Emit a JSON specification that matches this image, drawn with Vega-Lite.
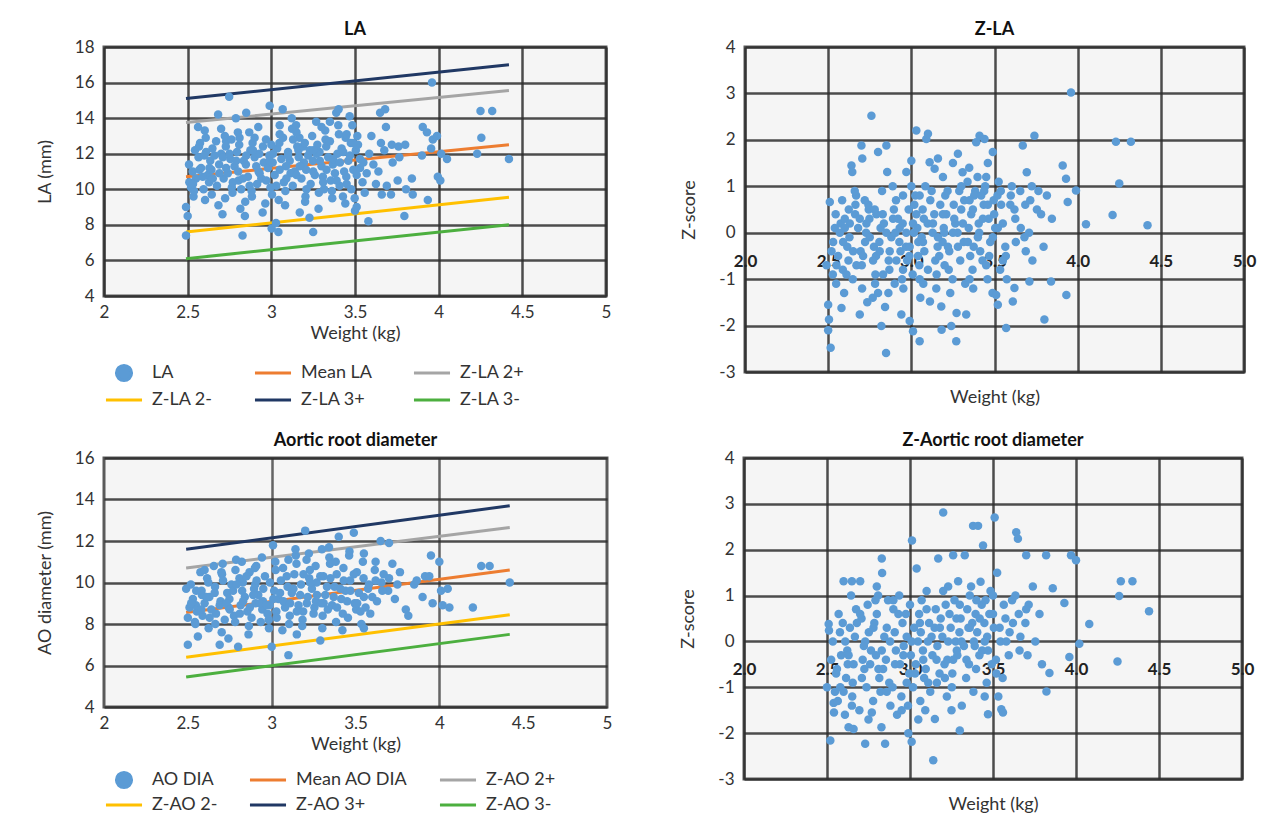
{
"$schema": "https://vega.github.io/schema/vega-lite/v6.json",
"background": "white",
"padding": {"left": 34, "top": 19, "right": 5, "bottom": 1},
"config": {
  "font": "Lato",
  "view": {"stroke": "#5a5a5a", "strokeWidth": 3, "fill": "#f5f5f5"},
  "axis": {"labelFont": "Lato", "labelFontSize": 17, "labelColor": "#333", "titleFont": "Lato", "titleFontSize": 18, "titleFontWeight": "normal", "titleColor": "#333", "ticks": false, "domain": false, "grid": true, "gridColor": "#2e2e2e", "gridWidth": 2.5, "gridOpacity": 0.85, "labelOverlap": false},
  "title": {"font": "Lato", "fontSize": 18, "fontWeight": "bold", "color": "#111", "offset": -1},
  "legend": {"labelFont": "Lato", "labelFontSize": 18, "labelColor": "#333"}
},
"datasets": {
  "laLines": [
    {"s": "Z-LA 3+", "w": 2.49, "v": 15.1}, {"s": "Z-LA 3+", "w": 4.42, "v": 17.0},
    {"s": "Z-LA 2+", "w": 2.49, "v": 13.75}, {"s": "Z-LA 2+", "w": 4.42, "v": 15.55},
    {"s": "Mean LA", "w": 2.49, "v": 10.7}, {"s": "Mean LA", "w": 4.42, "v": 12.5},
    {"s": "Z-LA 2-", "w": 2.49, "v": 7.6}, {"s": "Z-LA 2-", "w": 4.42, "v": 9.55},
    {"s": "Z-LA 3-", "w": 2.49, "v": 6.1}, {"s": "Z-LA 3-", "w": 4.42, "v": 8.0}
  ],
  "aoLines": [
    {"s": "Z-AO 3+", "w": 2.49, "v": 11.6}, {"s": "Z-AO 3+", "w": 4.42, "v": 13.7},
    {"s": "Z-AO 2+", "w": 2.49, "v": 10.7}, {"s": "Z-AO 2+", "w": 4.42, "v": 12.65},
    {"s": "Mean AO DIA", "w": 2.49, "v": 8.55}, {"s": "Mean AO DIA", "w": 4.42, "v": 10.6},
    {"s": "Z-AO 2-", "w": 2.49, "v": 6.4}, {"s": "Z-AO 2-", "w": 4.42, "v": 8.45},
    {"s": "Z-AO 3-", "w": 2.49, "v": 5.45}, {"s": "Z-AO 3-", "w": 4.42, "v": 7.5}
  ],
  "la": [
    {"w":2.49,"v":9.0},{"w":2.5,"v":8.5},{"w":2.49,"v":7.4},{"w":2.51,"v":10.4},
    {"w":2.52,"v":10.1},{"w":2.535,"v":9.6},{"w":2.508,"v":11.4},{"w":2.544,"v":12.2},
    {"w":2.55,"v":10.6},{"w":2.565,"v":11.8},{"w":2.538,"v":9.9},{"w":2.574,"v":12.6},{"w":2.532,"v":10.3},
    {"w":2.58,"v":11.2},{"w":2.595,"v":10.0},{"w":2.568,"v":12.4},{"w":2.604,"v":9.4},{"w":2.562,"v":13.5},
    {"w":2.62,"v":10.8},{"w":2.635,"v":11.6},{"w":2.608,"v":12.9},{"w":2.644,"v":9.7},{"w":2.602,"v":13.3},{"w":2.628,"v":10.4},
    {"w":2.66,"v":11.9},{"w":2.675,"v":10.2},{"w":2.648,"v":12.3},{"w":2.684,"v":9.1},{"w":2.642,"v":11.1},
    {"w":2.70,"v":12.0},{"w":2.715,"v":10.6},{"w":2.688,"v":11.4},{"w":2.724,"v":9.5},{"w":2.682,"v":14.2},{"w":2.708,"v":8.6},{"w":2.73,"v":12.7},
    {"w":2.74,"v":10.9},{"w":2.755,"v":11.7},{"w":2.728,"v":12.4},{"w":2.764,"v":10.1},{"w":2.722,"v":13.0},{"w":2.748,"v":15.2},
    {"w":2.78,"v":11.3},{"w":2.795,"v":12.1},{"w":2.768,"v":9.8},{"w":2.804,"v":10.5},{"w":2.762,"v":12.8},{"w":2.788,"v":14.0},
    {"w":2.82,"v":10.0},{"w":2.835,"v":11.6},{"w":2.808,"v":12.5},{"w":2.844,"v":9.3},{"w":2.802,"v":11.0},{"w":2.828,"v":7.4},{"w":2.85,"v":14.3},{"w":2.815,"v":8.9},
    {"w":2.86,"v":10.7},{"w":2.875,"v":12.2},{"w":2.848,"v":11.4},{"w":2.884,"v":9.6},{"w":2.842,"v":8.5},{"w":2.868,"v":13.2},
    {"w":2.90,"v":11.8},{"w":2.915,"v":10.3},{"w":2.888,"v":12.6},{"w":2.924,"v":11.0},{"w":2.882,"v":9.9},
    {"w":2.94,"v":10.6},{"w":2.955,"v":11.5},{"w":2.928,"v":12.0},{"w":2.964,"v":9.2},{"w":2.922,"v":13.5},{"w":2.948,"v":8.7},
    {"w":2.98,"v":11.2},{"w":2.995,"v":10.1},{"w":2.968,"v":12.8},{"w":3.004,"v":9.7},{"w":2.99,"v":14.7},{"w":2.988,"v":11.9},
    {"w":3.02,"v":10.8},{"w":3.035,"v":12.3},{"w":3.008,"v":11.5},{"w":3.044,"v":9.4},{"w":3.002,"v":7.8},{"w":3.028,"v":8.1},{"w":3.05,"v":13.1},
    {"w":3.06,"v":11.7},{"w":3.075,"v":10.4},{"w":3.048,"v":12.6},{"w":3.084,"v":9.9},{"w":3.042,"v":7.6},{"w":3.068,"v":14.5},
    {"w":3.10,"v":12.1},{"w":3.115,"v":10.9},{"w":3.088,"v":11.3},{"w":3.124,"v":13.4},{"w":3.082,"v":9.1},
    {"w":3.14,"v":11.0},{"w":3.155,"v":12.4},{"w":3.128,"v":10.2},{"w":3.164,"v":11.8},{"w":3.122,"v":14.0},{"w":3.148,"v":13.6},{"w":3.17,"v":8.7},
    {"w":3.18,"v":10.6},{"w":3.195,"v":11.5},{"w":3.168,"v":12.9},{"w":3.204,"v":9.6},{"w":3.162,"v":12.2},
    {"w":3.22,"v":11.9},{"w":3.235,"v":10.3},{"w":3.208,"v":11.1},{"w":3.244,"v":13.0},{"w":3.202,"v":9.3},{"w":3.228,"v":8.4},
    {"w":3.26,"v":10.8},{"w":3.275,"v":12.5},{"w":3.248,"v":11.6},{"w":3.284,"v":9.8},{"w":3.25,"v":7.6},{"w":3.268,"v":13.8},
    {"w":3.30,"v":11.3},{"w":3.315,"v":10.0},{"w":3.288,"v":12.1},{"w":3.324,"v":12.8},{"w":3.282,"v":8.9},{"w":3.308,"v":10.7},
    {"w":3.34,"v":11.8},{"w":3.355,"v":10.5},{"w":3.328,"v":12.4},{"w":3.364,"v":9.5},{"w":3.322,"v":13.3},
    {"w":3.38,"v":10.9},{"w":3.395,"v":12.0},{"w":3.368,"v":11.4},{"w":3.404,"v":13.1},{"w":3.362,"v":9.9},{"w":3.388,"v":14.3},
    {"w":3.42,"v":12.3},{"w":3.435,"v":11.0},{"w":3.408,"v":10.2},{"w":3.444,"v":12.9},{"w":3.402,"v":14.5},{"w":3.428,"v":9.6},
    {"w":3.46,"v":11.6},{"w":3.475,"v":12.6},{"w":3.448,"v":10.7},{"w":3.484,"v":13.6},{"w":3.442,"v":9.2},{"w":3.468,"v":14.1},
    {"w":3.49,"v":11.1},{"w":3.505,"v":12.2},{"w":3.478,"v":10.0},{"w":3.514,"v":13.0},{"w":3.5,"v":8.8},{"w":3.498,"v":9.5},
    {"w":3.53,"v":11.7},{"w":3.545,"v":10.4},{"w":3.518,"v":12.5},{"w":3.51,"v":9.0},
    {"w":3.57,"v":10.9},{"w":3.585,"v":12.0},{"w":3.558,"v":9.8},{"w":3.58,"v":8.2},
    {"w":3.61,"v":11.4},{"w":3.625,"v":10.3},{"w":3.598,"v":13.0},
    {"w":3.65,"v":14.3},{"w":3.655,"v":12.6},{"w":3.64,"v":11.0},{"w":3.66,"v":9.7},
    {"w":3.68,"v":14.5},{"w":3.685,"v":13.5},{"w":3.675,"v":12.2},{"w":3.69,"v":10.2},
    {"w":3.72,"v":12.5},{"w":3.725,"v":11.5},{"w":3.715,"v":9.7},
    {"w":3.76,"v":12.4},{"w":3.755,"v":10.5},{"w":3.765,"v":11.8},
    {"w":3.80,"v":12.5},{"w":3.805,"v":10.0},{"w":3.795,"v":8.5},
    {"w":3.84,"v":10.6},{"w":3.845,"v":9.7},
    {"w":3.90,"v":11.9},{"w":3.905,"v":13.5},
    {"w":3.93,"v":13.2},{"w":3.935,"v":9.4},
    {"w":3.96,"v":16.0},{"w":3.965,"v":12.8},{"w":3.955,"v":12.3},
    {"w":3.99,"v":13.0},{"w":3.995,"v":10.7},
    {"w":4.01,"v":10.5},{"w":4.015,"v":12.0},
    {"w":4.05,"v":11.7},{"w":4.23,"v":12.0},{"w":4.25,"v":14.4},{"w":4.255,"v":12.9},{"w":4.32,"v":14.4},{"w":4.42,"v":11.7},
    {"w":2.53,"v":11.0},{"w":2.57,"v":11.1},{"w":2.59,"v":10.7},{"w":2.61,"v":12.1},{"w":2.63,"v":11.2},{"w":2.65,"v":10.6},{"w":2.67,"v":12.7},{"w":2.69,"v":10.9},
    {"w":2.71,"v":11.8},{"w":2.73,"v":11.2},{"w":2.75,"v":12.0},{"w":2.77,"v":10.4},{"w":2.79,"v":11.6},{"w":2.81,"v":12.9},{"w":2.83,"v":10.6},{"w":2.85,"v":11.9},
    {"w":2.87,"v":10.2},{"w":2.89,"v":12.2},{"w":2.91,"v":11.3},{"w":2.93,"v":10.9},{"w":2.95,"v":12.4},{"w":2.97,"v":10.5},{"w":2.99,"v":11.6},{"w":3.01,"v":12.0},
    {"w":3.03,"v":10.2},{"w":3.05,"v":11.1},{"w":3.07,"v":12.9},{"w":3.09,"v":10.6},{"w":3.11,"v":11.6},{"w":3.13,"v":12.8},{"w":3.15,"v":10.8},{"w":3.17,"v":11.3},
    {"w":3.19,"v":12.4},{"w":3.21,"v":10.0},{"w":3.23,"v":12.2},{"w":3.25,"v":11.0},{"w":3.27,"v":12.0},{"w":3.29,"v":11.6},{"w":3.31,"v":10.4},{"w":3.33,"v":11.1},
    {"w":3.35,"v":12.7},{"w":3.37,"v":11.7},{"w":3.39,"v":10.5},{"w":3.41,"v":11.5},{"w":3.43,"v":12.1},{"w":3.45,"v":10.3},{"w":3.47,"v":11.9},{"w":3.49,"v":12.6},
    {"w":3.51,"v":10.8},{"w":3.53,"v":11.2},{"w":3.55,"v":11.5},{"w":3.45,"v":13.1},{"w":3.40,"v":13.6},{"w":3.35,"v":13.8},{"w":3.3,"v":13.5},{"w":3.20,"v":12.6},
    {"w":3.10,"v":11.9},{"w":2.90,"v":12.9},{"w":2.80,"v":13.2},{"w":2.70,"v":13.4},{"w":2.60,"v":11.9},{"w":3.00,"v":12.5},{"w":3.05,"v":13.6},{"w":3.15,"v":13.2},{"w":3.25,"v":12.2}
  ],
  "zla": [
    {"w":2.50,"v":-1.55},{"w":2.505,"v":-1.87},{"w":2.515,"v":-2.48},{"w":2.49,"v":-0.7},{"w":2.51,"v":0.66},{"w":2.52,"v":-0.4},{"w":2.50,"v":-2.1},
    {"w":2.53,"v":-0.2},{"w":2.545,"v":0.4},{"w":2.528,"v":-0.9},{"w":2.54,"v":0.1},
    {"w":2.56,"v":-0.5},{"w":2.575,"v":0.2},{"w":2.548,"v":-1.1},{"w":2.584,"v":0.7},{"w":2.58,"v":-1.62},
    {"w":2.60,"v":0.3},{"w":2.615,"v":-0.3},{"w":2.588,"v":-0.8},{"w":2.624,"v":0.5},{"w":2.596,"v":-1.3},
    {"w":2.64,"v":1.45},{"w":2.645,"v":1.31},{"w":2.628,"v":-0.1},{"w":2.664,"v":0.6},{"w":2.622,"v":-0.6},{"w":2.648,"v":-1.0},
    {"w":2.68,"v":0.1},{"w":2.695,"v":-0.4},{"w":2.668,"v":0.8},{"w":2.704,"v":-1.2},{"w":2.662,"v":0.4},{"w":2.69,"v":-1.76},
    {"w":2.70,"v":1.88},{"w":2.705,"v":1.6},{"w":2.722,"v":-0.2},{"w":2.744,"v":0.5},{"w":2.702,"v":-0.7},{"w":2.728,"v":0.0},{"w":2.735,"v":-1.5},
    {"w":2.76,"v":2.52},{"w":2.775,"v":-0.3},{"w":2.748,"v":0.3},{"w":2.784,"v":-0.9},{"w":2.742,"v":0.6},{"w":2.768,"v":-1.4},
    {"w":2.80,"v":1.74},{"w":2.815,"v":0.1},{"w":2.788,"v":-0.5},{"w":2.824,"v":0.9},{"w":2.782,"v":-1.1},{"w":2.82,"v":-2.01},{"w":2.808,"v":-0.2},
    {"w":2.85,"v":1.88},{"w":2.848,"v":-2.59},{"w":2.828,"v":0.4},{"w":2.864,"v":-0.6},{"w":2.835,"v":0.2},{"w":2.842,"v":-1.6},{"w":2.855,"v":1.31},
    {"w":2.88,"v":-0.1},{"w":2.895,"v":0.5},{"w":2.868,"v":-0.8},{"w":2.904,"v":0.0},{"w":2.862,"v":-1.3},{"w":2.888,"v":1.0},
    {"w":2.92,"v":0.3},{"w":2.935,"v":-0.4},{"w":2.908,"v":0.7},{"w":2.944,"v":-1.0},{"w":2.94,"v":-1.76},{"w":2.928,"v":-0.2},
    {"w":2.97,"v":1.31},{"w":2.975,"v":-0.6},{"w":2.948,"v":0.2},{"w":2.984,"v":0.5},{"w":2.952,"v":-1.2},{"w":2.968,"v":-0.3},
    {"w":3.00,"v":1.55},{"w":3.015,"v":0.0},{"w":2.988,"v":-0.5},{"w":3.024,"v":0.8},{"w":2.99,"v":-1.9},{"w":3.008,"v":-0.9},{"w":3.03,"v":0.4},
    {"w":3.03,"v":2.2},{"w":3.01,"v":-2.12},{"w":3.042,"v":-0.2},{"w":3.018,"v":0.6},{"w":3.054,"v":-1.4},{"w":3.036,"v":0.1},
    {"w":3.05,"v":-2.34},{"w":3.075,"v":0.3},{"w":3.048,"v":-0.7},{"w":3.084,"v":1.0},{"w":3.062,"v":-0.1},{"w":3.068,"v":0.5},
    {"w":3.09,"v":2.02},{"w":3.10,"v":2.13},{"w":3.078,"v":-0.4},{"w":3.114,"v":0.7},{"w":3.072,"v":-1.1},{"w":3.098,"v":0.2},
    {"w":3.11,"v":1.52},{"w":3.112,"v":-1.48},{"w":3.128,"v":0.0},{"w":3.144,"v":-0.6},{"w":3.122,"v":0.9},{"w":3.138,"v":0.4},
    {"w":3.14,"v":1.38},{"w":3.16,"v":1.6},{"w":3.158,"v":-0.3},{"w":3.174,"v":0.6},{"w":3.152,"v":-0.9},{"w":3.18,"v":-1.59},
    {"w":3.182,"v":-2.09},{"w":3.195,"v":0.1},{"w":3.168,"v":-0.5},{"w":3.204,"v":0.8},{"w":3.19,"v":1.2},{"w":3.188,"v":-0.2},
    {"w":3.21,"v":0.4},{"w":3.225,"v":-0.8},{"w":3.198,"v":0.0},{"w":3.234,"v":-1.3},{"w":3.218,"v":0.9},
    {"w":3.24,"v":-2.01},{"w":3.255,"v":0.6},{"w":3.228,"v":-0.4},{"w":3.264,"v":0.2},{"w":3.25,"v":1.5},{"w":3.248,"v":-1.0},
    {"w":3.27,"v":-2.34},{"w":3.272,"v":-1.73},{"w":3.258,"v":0.3},{"w":3.294,"v":-0.6},{"w":3.28,"v":1.7},{"w":3.278,"v":0.0},
    {"w":3.30,"v":0.5},{"w":3.315,"v":-0.2},{"w":3.288,"v":0.9},{"w":3.324,"v":-1.1},{"w":3.308,"v":1.3},
    {"w":3.33,"v":-1.76},{"w":3.345,"v":0.1},{"w":3.318,"v":0.7},{"w":3.354,"v":-0.5},{"w":3.338,"v":1.1},
    {"w":3.36,"v":0.4},{"w":3.375,"v":-0.3},{"w":3.348,"v":1.4},{"w":3.384,"v":0.9},{"w":3.368,"v":-0.8},
    {"w":3.39,"v":1.95},{"w":3.405,"v":0.2},{"w":3.378,"v":0.8},{"w":3.414,"v":-0.4},{"w":3.398,"v":1.2},{"w":3.372,"v":-1.2},
    {"w":3.41,"v":2.09},{"w":3.435,"v":0.6},{"w":3.408,"v":0.0},{"w":3.444,"v":1.0},{"w":3.428,"v":-0.6},
    {"w":3.44,"v":2.02},{"w":3.465,"v":0.3},{"w":3.438,"v":0.9},{"w":3.474,"v":-0.2},{"w":3.458,"v":-1.0},{"w":3.46,"v":1.5},
    {"w":3.49,"v":1.74},{"w":3.495,"v":0.7},{"w":3.468,"v":-0.5},{"w":3.504,"v":0.1},{"w":3.488,"v":-1.3},
    {"w":3.51,"v":-1.34},{"w":3.525,"v":1.1},{"w":3.498,"v":0.4},{"w":3.534,"v":-0.8},{"w":3.52,"v":-1.55},{"w":3.518,"v":0.8},
    {"w":3.55,"v":0.2},{"w":3.565,"v":-0.3},{"w":3.538,"v":0.9},{"w":3.574,"v":-1.0},
    {"w":3.57,"v":-2.05},{"w":3.595,"v":0.6},{"w":3.568,"v":-0.5},{"w":3.604,"v":1.0},
    {"w":3.61,"v":-1.48},{"w":3.625,"v":0.3},{"w":3.598,"v":0.8},
    {"w":3.62,"v":-1.19},{"w":3.655,"v":0.9},{"w":3.628,"v":-0.2},
    {"w":3.67,"v":1.88},{"w":3.685,"v":0.6},{"w":3.658,"v":0.1},{"w":3.694,"v":1.3},
    {"w":3.71,"v":-1.05},{"w":3.715,"v":0.7},{"w":3.688,"v":-0.4},{"w":3.724,"v":1.0},{"w":3.708,"v":0.0},
    {"w":3.74,"v":2.09},{"w":3.755,"v":0.5},{"w":3.728,"v":-0.6},{"w":3.764,"v":0.9},
    {"w":3.78,"v":0.4},{"w":3.795,"v":-0.3},{"w":3.80,"v":-1.87},{"w":3.815,"v":0.8},{"w":3.84,"v":-1.05},{"w":3.845,"v":0.3},
    {"w":3.91,"v":1.45},{"w":3.93,"v":1.16},{"w":3.932,"v":-1.34},{"w":3.94,"v":0.66},{"w":3.96,"v":3.02},{"w":3.99,"v":0.91},
    {"w":4.05,"v":0.18},{"w":4.21,"v":0.38},{"w":4.23,"v":1.96},{"w":4.25,"v":1.06},{"w":4.32,"v":1.96},{"w":4.42,"v":0.16},
    {"w":2.55,"v":-0.7},{"w":2.57,"v":0.0},{"w":2.59,"v":-0.2},{"w":2.61,"v":-0.9},{"w":2.63,"v":0.2},{"w":2.65,"v":-0.4},{"w":2.67,"v":-0.7},{"w":2.69,"v":0.3},
    {"w":2.71,"v":-0.5},{"w":2.73,"v":0.2},{"w":2.75,"v":-0.1},{"w":2.77,"v":-0.6},{"w":2.79,"v":0.4},{"w":2.81,"v":-0.4},{"w":2.83,"v":-0.9},{"w":2.85,"v":0.0},
    {"w":2.87,"v":-0.4},{"w":2.89,"v":0.3},{"w":2.91,"v":-0.6},{"w":2.93,"v":0.1},{"w":2.95,"v":-0.8},{"w":2.97,"v":0.0},{"w":2.99,"v":-0.3},{"w":3.01,"v":0.2},
    {"w":3.04,"v":-0.5},{"w":3.07,"v":-0.2},{"w":3.10,"v":-0.8},{"w":3.13,"v":0.2},{"w":3.16,"v":-0.1},{"w":3.19,"v":0.4},{"w":3.22,"v":-0.3},{"w":3.25,"v":0.0},
    {"w":3.28,"v":-0.3},{"w":3.31,"v":0.2},{"w":3.34,"v":-0.2},{"w":3.37,"v":0.5},{"w":3.40,"v":-0.1},{"w":3.43,"v":0.3},{"w":3.46,"v":0.6},{"w":3.49,"v":-0.1},
    {"w":3.52,"v":0.1},{"w":3.54,"v":0.6},{"w":3.45,"v":1.2},{"w":3.42,"v":0.8},{"w":3.35,"v":0.7},{"w":3.30,"v":1.0},{"w":3.05,"v":0.8},{"w":3.00,"v":1.0},
    {"w":2.95,"v":0.8},{"w":2.78,"v":0.5},{"w":2.72,"v":0.7},{"w":2.66,"v":0.9},{"w":2.60,"v":0.1},{"w":3.20,"v":-0.7},{"w":3.15,"v":-1.2},{"w":3.05,"v":-1.0},
    {"w":2.90,"v":-1.1},{"w":2.80,"v":-1.3},{"w":3.35,"v":-1.0},{"w":3.45,"v":-0.7},{"w":3.55,"v":-0.6},{"w":3.62,"v":0.5},{"w":3.68,"v":-0.1}
  ],
  "ao": [
    {"w":2.50,"v":7.0},{"w":2.49,"v":9.7},{"w":2.51,"v":8.8},{"w":2.5,"v":8.3},
    {"w":2.53,"v":9.2},{"w":2.545,"v":8.0},{"w":2.518,"v":9.9},{"w":2.554,"v":8.6},
    {"w":2.56,"v":7.4},{"w":2.575,"v":10.5},{"w":2.548,"v":8.9},{"w":2.584,"v":9.4},{"w":2.542,"v":8.1},
    {"w":2.60,"v":9.0},{"w":2.615,"v":10.2},{"w":2.588,"v":8.4},{"w":2.624,"v":7.8},{"w":2.582,"v":9.6},
    {"w":2.64,"v":8.7},{"w":2.655,"v":10.8},{"w":2.628,"v":9.3},{"w":2.664,"v":8.0},{"w":2.622,"v":10.0},
    {"w":2.69,"v":7.0},{"w":2.695,"v":9.1},{"w":2.668,"v":8.5},{"w":2.704,"v":10.4},{"w":2.662,"v":9.8},
    {"w":2.72,"v":8.2},{"w":2.735,"v":9.5},{"w":2.708,"v":10.9},{"w":2.744,"v":8.8},{"w":2.702,"v":7.6},
    {"w":2.76,"v":9.9},{"w":2.775,"v":8.4},{"w":2.748,"v":9.2},{"w":2.784,"v":10.6},{"w":2.742,"v":7.3},
    {"w":2.80,"v":6.9},{"w":2.815,"v":8.9},{"w":2.788,"v":11.1},{"w":2.824,"v":9.6},{"w":2.782,"v":8.1},{"w":2.808,"v":10.2},
    {"w":2.84,"v":9.3},{"w":2.855,"v":8.6},{"w":2.828,"v":10.0},{"w":2.864,"v":7.9},{"w":2.822,"v":11.0},
    {"w":2.88,"v":8.3},{"w":2.895,"v":9.7},{"w":2.868,"v":10.5},{"w":2.904,"v":9.0},{"w":2.862,"v":7.5},
    {"w":2.92,"v":9.4},{"w":2.935,"v":8.1},{"w":2.908,"v":10.8},{"w":2.944,"v":8.7},{"w":2.902,"v":9.9},
    {"w":2.96,"v":10.3},{"w":2.975,"v":8.5},{"w":2.948,"v":9.1},{"w":2.984,"v":7.8},{"w":2.942,"v":11.2},
    {"w":3.00,"v":6.9},{"w":3.015,"v":9.6},{"w":2.988,"v":8.9},{"w":3.024,"v":10.6},{"w":2.982,"v":8.2},{"w":3.008,"v":11.8},
    {"w":3.04,"v":9.2},{"w":3.055,"v":10.1},{"w":3.028,"v":8.6},{"w":3.064,"v":7.7},{"w":3.022,"v":11.0},
    {"w":3.08,"v":8.8},{"w":3.095,"v":9.8},{"w":3.068,"v":10.7},{"w":3.104,"v":8.0},{"w":3.10,"v":6.5},
    {"w":3.12,"v":9.5},{"w":3.135,"v":10.4},{"w":3.108,"v":8.4},{"w":3.144,"v":11.3},{"w":3.15,"v":7.5},
    {"w":3.16,"v":8.9},{"w":3.175,"v":9.9},{"w":3.148,"v":10.9},{"w":3.184,"v":8.2},{"w":3.142,"v":11.6},
    {"w":3.20,"v":12.5},{"w":3.215,"v":9.3},{"w":3.188,"v":8.6},{"w":3.224,"v":10.2},{"w":3.182,"v":7.9},{"w":3.208,"v":11.1},
    {"w":3.24,"v":9.7},{"w":3.255,"v":8.8},{"w":3.228,"v":10.6},{"w":3.264,"v":9.1},{"w":3.222,"v":11.4},
    {"w":3.29,"v":7.2},{"w":3.295,"v":9.0},{"w":3.268,"v":10.0},{"w":3.304,"v":8.4},{"w":3.262,"v":10.8},
    {"w":3.32,"v":9.4},{"w":3.335,"v":8.7},{"w":3.308,"v":10.3},{"w":3.344,"v":11.2},{"w":3.302,"v":7.8},
    {"w":3.36,"v":8.9},{"w":3.375,"v":9.8},{"w":3.348,"v":10.9},{"w":3.384,"v":8.1},{"w":3.342,"v":11.7},
    {"w":3.40,"v":12.2},{"w":3.415,"v":9.2},{"w":3.388,"v":10.4},{"w":3.424,"v":8.5},{"w":3.382,"v":11.0},
    {"w":3.44,"v":9.6},{"w":3.455,"v":8.3},{"w":3.428,"v":10.7},{"w":3.464,"v":11.5},{"w":3.422,"v":7.7},
    {"w":3.49,"v":12.4},{"w":3.495,"v":9.0},{"w":3.468,"v":10.1},{"w":3.504,"v":8.7},{"w":3.462,"v":11.3},
    {"w":3.52,"v":9.5},{"w":3.535,"v":8.0},{"w":3.508,"v":10.5},{"w":3.544,"v":11.0},
    {"w":3.56,"v":8.8},{"w":3.575,"v":9.7},{"w":3.548,"v":10.2},{"w":3.55,"v":7.8},
    {"w":3.60,"v":9.3},{"w":3.615,"v":10.6},{"w":3.588,"v":8.5},
    {"w":3.65,"v":12.0},{"w":3.655,"v":10.0},{"w":3.628,"v":9.1},
    {"w":3.70,"v":11.9},{"w":3.695,"v":9.6},{"w":3.668,"v":10.4},
    {"w":3.72,"v":10.9},{"w":3.735,"v":9.2},{"w":3.75,"v":9.9},{"w":3.765,"v":10.5},
    {"w":3.80,"v":8.7},{"w":3.815,"v":8.4},{"w":3.85,"v":9.9},{"w":3.865,"v":10.1},
    {"w":3.90,"v":9.3},{"w":3.915,"v":10.3},{"w":3.95,"v":11.3},{"w":3.94,"v":10.3},{"w":3.96,"v":9.0},
    {"w":4.00,"v":11.0},{"w":4.01,"v":9.6},{"w":4.02,"v":8.9},{"w":4.05,"v":9.7},{"w":4.06,"v":8.8},
    {"w":4.20,"v":8.8},{"w":4.25,"v":10.8},{"w":4.30,"v":10.8},{"w":4.42,"v":10.0},
    {"w":2.52,"v":9.0},{"w":2.55,"v":9.6},{"w":2.58,"v":8.7},{"w":2.61,"v":9.3},{"w":2.63,"v":8.3},{"w":2.66,"v":9.5},{"w":2.69,"v":8.9},{"w":2.71,"v":10.1},
    {"w":2.73,"v":9.0},{"w":2.75,"v":8.7},{"w":2.77,"v":9.6},{"w":2.79,"v":9.9},{"w":2.81,"v":8.5},{"w":2.83,"v":9.1},{"w":2.85,"v":10.3},{"w":2.87,"v":8.8},
    {"w":2.89,"v":9.4},{"w":2.91,"v":10.1},{"w":2.93,"v":9.0},{"w":2.95,"v":9.7},{"w":2.97,"v":8.9},{"w":2.99,"v":10.0},{"w":3.01,"v":9.2},{"w":3.03,"v":8.3},
    {"w":3.05,"v":9.5},{"w":3.07,"v":9.1},{"w":3.09,"v":10.3},{"w":3.11,"v":9.0},{"w":3.13,"v":9.7},{"w":3.15,"v":8.6},{"w":3.17,"v":9.4},{"w":3.19,"v":10.4},
    {"w":3.21,"v":9.0},{"w":3.23,"v":10.0},{"w":3.25,"v":8.5},{"w":3.27,"v":9.4},{"w":3.29,"v":10.3},{"w":3.31,"v":9.0},{"w":3.33,"v":9.8},{"w":3.35,"v":10.2},
    {"w":3.37,"v":9.3},{"w":3.39,"v":8.8},{"w":3.41,"v":9.7},{"w":3.43,"v":10.1},{"w":3.45,"v":9.1},{"w":3.47,"v":9.6},{"w":3.49,"v":10.4},{"w":3.51,"v":9.0},
    {"w":3.53,"v":8.6},{"w":3.55,"v":9.3},{"w":3.58,"v":9.9},{"w":3.62,"v":10.1},{"w":3.66,"v":9.6},{"w":3.70,"v":10.2},{"w":3.62,"v":11.0},{"w":3.55,"v":11.4},
    {"w":3.30,"v":11.6},{"w":3.10,"v":11.1},{"w":2.90,"v":10.7},{"w":2.70,"v":10.5},{"w":2.60,"v":10.6}
  ],
  "zao": [
    {"w":2.51,"v":0.38},{"w":2.512,"v":0.24},{"w":2.52,"v":-2.16},{"w":2.50,"v":-1.0},{"w":2.525,"v":-0.4},
    {"w":2.54,"v":-1.34},{"w":2.542,"v":-1.55},{"w":2.555,"v":-0.7},{"w":2.535,"v":0.0},{"w":2.548,"v":-1.1},
    {"w":2.57,"v":0.6},{"w":2.585,"v":-0.3},{"w":2.565,"v":-1.3},{"w":2.578,"v":0.2},
    {"w":2.60,"v":1.31},{"w":2.615,"v":-0.8},{"w":2.595,"v":0.4},{"w":2.608,"v":-1.6},{"w":2.622,"v":-0.2},
    {"w":2.63,"v":-1.87},{"w":2.645,"v":1.0},{"w":2.625,"v":-0.5},{"w":2.638,"v":0.3},{"w":2.652,"v":-1.2},
    {"w":2.66,"v":-1.91},{"w":2.675,"v":0.7},{"w":2.655,"v":-0.9},{"w":2.668,"v":0.1},{"w":2.65,"v":1.31},
    {"w":2.70,"v":1.31},{"w":2.715,"v":-0.4},{"w":2.695,"v":-1.5},{"w":2.708,"v":0.5},{"w":2.722,"v":-0.1},
    {"w":2.73,"v":-2.23},{"w":2.745,"v":0.8},{"w":2.725,"v":-0.6},{"w":2.738,"v":-1.0},{"w":2.752,"v":0.2},
    {"w":2.77,"v":-1.55},{"w":2.785,"v":0.4},{"w":2.765,"v":-0.2},{"w":2.778,"v":-1.3},{"w":2.792,"v":0.9},
    {"w":2.80,"v":0.6},{"w":2.815,"v":-0.8},{"w":2.795,"v":-0.3},{"w":2.808,"v":1.0},{"w":2.822,"v":-1.1},
    {"w":2.83,"v":1.81},{"w":2.832,"v":1.49},{"w":2.828,"v":-1.87},{"w":2.85,"v":-2.23},{"w":2.845,"v":0.1},{"w":2.838,"v":-0.6},
    {"w":2.86,"v":0.3},{"w":2.875,"v":-0.9},{"w":2.855,"v":-0.4},{"w":2.868,"v":0.9},{"w":2.882,"v":-1.4},
    {"w":2.90,"v":0.7},{"w":2.915,"v":-0.2},{"w":2.895,"v":-1.0},{"w":2.908,"v":0.2},{"w":2.922,"v":-1.6},
    {"w":2.94,"v":-0.5},{"w":2.955,"v":0.4},{"w":2.935,"v":1.0},{"w":2.948,"v":-1.2},{"w":2.962,"v":-0.1},
    {"w":2.98,"v":0.1},{"w":2.995,"v":-0.7},{"w":2.975,"v":0.6},{"w":2.988,"v":-1.4},{"w":2.99,"v":-2.0},
    {"w":3.01,"v":-2.19},{"w":3.012,"v":2.2},{"w":3.025,"v":0.3},{"w":3.005,"v":-0.3},{"w":3.018,"v":-1.0},
    {"w":3.04,"v":1.59},{"w":3.055,"v":0.6},{"w":3.035,"v":-0.5},{"w":3.048,"v":0.0},{"w":3.062,"v":-1.3},
    {"w":3.07,"v":0.9},{"w":3.085,"v":-0.8},{"w":3.065,"v":0.2},{"w":3.078,"v":-0.2},{"w":3.092,"v":-1.5},
    {"w":3.10,"v":1.1},{"w":3.115,"v":0.4},{"w":3.095,"v":-0.6},{"w":3.108,"v":0.0},{"w":3.122,"v":-1.1},
    {"w":3.14,"v":-2.59},{"w":3.155,"v":0.7},{"w":3.135,"v":-0.3},{"w":3.148,"v":0.3},{"w":3.162,"v":-0.9},
    {"w":3.17,"v":1.81},{"w":3.15,"v":-1.69},{"w":3.185,"v":0.5},{"w":3.165,"v":-0.1},{"w":3.178,"v":-0.7},
    {"w":3.20,"v":2.81},{"w":3.215,"v":0.8},{"w":3.195,"v":0.1},{"w":3.208,"v":-0.5},{"w":3.222,"v":-1.2},
    {"w":3.23,"v":1.2},{"w":3.245,"v":0.3},{"w":3.225,"v":-0.4},{"w":3.238,"v":0.6},{"w":3.252,"v":-1.0},
    {"w":3.26,"v":1.88},{"w":3.275,"v":0.0},{"w":3.255,"v":-0.7},{"w":3.268,"v":0.9},{"w":3.282,"v":-0.2},
    {"w":3.29,"v":1.31},{"w":3.305,"v":0.5},{"w":3.285,"v":-0.3},{"w":3.298,"v":0.2},{"w":3.312,"v":-1.4},{"w":3.30,"v":-1.94},
    {"w":3.33,"v":1.88},{"w":3.345,"v":0.7},{"w":3.325,"v":-0.1},{"w":3.338,"v":-0.8},{"w":3.352,"v":0.3},
    {"w":3.36,"v":1.0},{"w":3.375,"v":0.4},{"w":3.355,"v":-0.5},{"w":3.368,"v":1.2},{"w":3.382,"v":-1.1},
    {"w":3.38,"v":2.52},{"w":3.395,"v":0.6},{"w":3.385,"v":0.0},{"w":3.398,"v":-0.6},
    {"w":3.41,"v":2.52},{"w":3.425,"v":1.3},{"w":3.405,"v":0.2},{"w":3.418,"v":-0.3},{"w":3.432,"v":0.8},
    {"w":3.44,"v":2.09},{"w":3.455,"v":0.9},{"w":3.435,"v":-0.2},{"w":3.448,"v":0.4},{"w":3.462,"v":-0.9},
    {"w":3.47,"v":-1.59},{"w":3.485,"v":1.1},{"w":3.465,"v":0.1},{"w":3.478,"v":0.6},{"w":3.492,"v":-0.5},
    {"w":3.51,"v":2.70},{"w":3.525,"v":1.5},{"w":3.505,"v":0.3},{"w":3.518,"v":-0.4},{"w":3.532,"v":-1.2},
    {"w":3.55,"v":-1.48},{"w":3.565,"v":0.8},{"w":3.545,"v":0.0},{"w":3.558,"v":-0.8},
    {"w":3.56,"v":-1.55},{"w":3.575,"v":0.5},
    {"w":3.60,"v":0.2},{"w":3.615,"v":0.9},{"w":3.595,"v":-0.3},
    {"w":3.64,"v":2.38},{"w":3.655,"v":0.6},{"w":3.635,"v":1.0},
    {"w":3.65,"v":2.24},{"w":3.665,"v":0.1},
    {"w":3.70,"v":1.88},{"w":3.715,"v":0.8},{"w":3.695,"v":0.4},{"w":3.708,"v":-0.3},
    {"w":3.74,"v":1.2},{"w":3.755,"v":0.0},{"w":3.78,"v":0.6},{"w":3.795,"v":-0.5},
    {"w":3.82,"v":1.88},{"w":3.822,"v":-1.09},{"w":3.84,"v":-0.69},{"w":3.86,"v":1.16},{"w":3.93,"v":0.84},
    {"w":3.96,"v":-0.34},{"w":3.97,"v":1.88},{"w":4.00,"v":1.77},{"w":4.02,"v":-0.05},{"w":4.08,"v":0.38},
    {"w":4.25,"v":-0.44},{"w":4.26,"v":0.99},{"w":4.27,"v":1.31},{"w":4.34,"v":1.31},{"w":4.44,"v":0.66},
    {"w":2.56,"v":-0.6},{"w":2.58,"v":-1.0},{"w":2.61,"v":0.0},{"w":2.63,"v":-0.3},{"w":2.66,"v":-0.5},{"w":2.68,"v":0.4},{"w":2.71,"v":-0.8},{"w":2.73,"v":0.0},
    {"w":2.76,"v":-0.5},{"w":2.78,"v":0.3},{"w":2.81,"v":-0.6},{"w":2.83,"v":-0.2},{"w":2.86,"v":-1.1},{"w":2.88,"v":0.0},{"w":2.91,"v":-0.5},{"w":2.93,"v":0.6},
    {"w":2.96,"v":-0.3},{"w":2.98,"v":-0.9},{"w":3.01,"v":0.0},{"w":3.03,"v":-0.7},{"w":3.06,"v":0.4},{"w":3.08,"v":-0.4},{"w":3.11,"v":-0.9},{"w":3.13,"v":0.1},
    {"w":3.16,"v":-0.4},{"w":3.18,"v":0.3},{"w":3.21,"v":-0.8},{"w":3.23,"v":0.0},{"w":3.26,"v":-0.4},{"w":3.28,"v":0.5},{"w":3.31,"v":0.0},{"w":3.34,"v":-0.4},
    {"w":3.36,"v":0.3},{"w":3.39,"v":-0.1},{"w":3.42,"v":0.5},{"w":3.45,"v":0.0},{"w":3.47,"v":-0.2},{"w":3.50,"v":0.6},{"w":3.52,"v":-0.7},{"w":3.54,"v":0.3},
    {"w":3.58,"v":0.0},{"w":3.62,"v":0.4},{"w":3.66,"v":-0.2},{"w":3.70,"v":0.7},{"w":2.70,"v":0.6},{"w":2.80,"v":1.2},{"w":2.90,"v":0.9},{"w":3.00,"v":0.8},
    {"w":3.10,"v":0.7},{"w":3.20,"v":1.1},{"w":3.30,"v":0.8},{"w":3.40,"v":0.9},{"w":3.50,"v":1.0},{"w":2.65,"v":-1.4},{"w":2.75,"v":-1.7},{"w":2.95,"v":-1.5},
    {"w":3.05,"v":-1.7},{"w":3.25,"v":-1.5},{"w":3.45,"v":-1.2},{"w":2.60,"v":-1.1}
  ]
},
"resolve": {"scale": {"color": "independent", "x": "independent", "y": "independent"}, "legend": {"color": "independent"}},
"spacing": 18,
"vconcat": [
  {
    "spacing": 66,
    "resolve": {"scale": {"color": "independent", "x": "independent", "y": "independent"}, "legend": {"color": "independent"}},
    "hconcat": [
      {
        "title": "LA",
        "width": 502, "height": 249,
        "encoding": {
          "x": {"field": "w", "type": "quantitative", "scale": {"domain": [2, 5], "nice": false, "zero": false}, "axis": {"title": "Weight (kg)", "values": [2, 2.5, 3, 3.5, 4, 4.5, 5], "labelExpr": "toString(datum.value)", "labelFlush": false, "labelPadding": 8, "titlePadding": 4}},
          "y": {"field": "v", "type": "quantitative", "scale": {"domain": [4, 18], "nice": false, "zero": false}, "axis": {"title": "LA (mm)", "values": [4, 6, 8, 10, 12, 14, 16, 18], "labelExpr": "toString(datum.value)", "labelPadding": 10, "titlePadding": 20}}
        },
        "layer": [
          {
            "data": {"name": "laLines"},
            "mark": {"type": "line", "strokeWidth": 3},
            "encoding": {
              "color": {
                "field": "s", "type": "nominal",
                "scale": {"domain": ["LA", "Mean LA", "Z-LA 2+", "Z-LA 2-", "Z-LA 3+", "Z-LA 3-"], "range": ["#5b9bd5", "#ed7d31", "#a5a5a5", "#ffc000", "#203864", "#4caf3f"]},
                "legend": {
                  "title": null, "orient": "bottom", "direction": "horizontal", "columns": 3, "columnPadding": 40, "rowPadding": 7, "offset": 21, "clipHeight": 20,
                  "symbolSize": 400, "symbolStrokeWidth": 3, "labelOffset": 8,
                  "encode": {"symbols": {"update": {
                    "shape": {"signal": "datum.value === 'LA' ? 'circle' : 'stroke'"},
                    "size": {"signal": "datum.value === 'LA' ? 230 : 1300"},
                    "fill": {"signal": "datum.value === 'LA' ? '#5b9bd5' : 'transparent'"},
                    "stroke": {"signal": "datum.value === 'LA' ? 'transparent' : ['#5b9bd5','#ed7d31','#a5a5a5','#ffc000','#203864','#4caf3f'][indexof(['LA','Mean LA','Z-LA 2+','Z-LA 2-','Z-LA 3+','Z-LA 3-'], datum.value)]"},
                    "strokeWidth": {"value": 3},
                    "opacity": {"value": 1}
                  }}}
                }
              }
            }
          },
          {
            "data": {"name": "la"},
            "mark": {"type": "circle", "size": 72, "opacity": 1},
            "encoding": {"color": {"datum": "LA", "type": "nominal"}}
          }
        ]
      },
      {
        "title": "Z-LA",
        "width": 499, "height": 325,
        "data": {"name": "zla"},
        "mark": {"type": "circle", "size": 72, "opacity": 1, "color": "#5b9bd5"},
        "encoding": {
          "x": {"field": "w", "type": "quantitative", "scale": {"domain": [2, 5], "nice": false, "zero": false}, "axis": {"title": "Weight (kg)", "values": [2, 2.5, 3, 3.5, 4, 4.5, 5], "format": ".1f", "labelFlush": false, "offset": -139, "labelPadding": 20, "titleY": 155, "labelFontWeight": "bold", "labelColor": "#222"}},
          "y": {"field": "v", "type": "quantitative", "scale": {"domain": [-3, 4], "nice": false, "zero": false}, "axis": {"title": "Z-score", "values": [-3, -2, -1, 0, 1, 2, 3, 4], "labelExpr": "toString(datum.value)", "labelPadding": 10, "titlePadding": 20}}
        }
      }
    ]
  },
  {
    "spacing": 64,
    "resolve": {"scale": {"color": "independent", "x": "independent", "y": "independent"}, "legend": {"color": "independent"}},
    "hconcat": [
      {
        "title": "Aortic root diameter",
        "width": 503, "height": 249,
        "encoding": {
          "x": {"field": "w", "type": "quantitative", "scale": {"domain": [2, 5], "nice": false, "zero": false}, "axis": {"title": "Weight (kg)", "values": [2, 2.5, 3, 3.5, 4, 4.5, 5], "labelExpr": "toString(datum.value)", "labelFlush": false, "labelPadding": 8, "titlePadding": 4, "gridOpacity": {"condition": {"test": "datum.value === 3 || datum.value === 4", "value": 0.85}, "value": 0}}},
          "y": {"field": "v", "type": "quantitative", "scale": {"domain": [4, 16], "nice": false, "zero": false}, "axis": {"title": "AO diameter (mm)", "values": [4, 6, 8, 10, 12, 14, 16], "labelExpr": "toString(datum.value)", "labelPadding": 10, "titlePadding": 20}}
        },
        "layer": [
          {
            "data": {"name": "aoLines"},
            "mark": {"type": "line", "strokeWidth": 3},
            "encoding": {
              "color": {
                "field": "s", "type": "nominal",
                "scale": {"domain": ["AO DIA", "Mean AO DIA", "Z-AO 2+", "Z-AO 2-", "Z-AO 3+", "Z-AO 3-"], "range": ["#5b9bd5", "#ed7d31", "#a5a5a5", "#ffc000", "#203864", "#4caf3f"]},
                "legend": {
                  "title": null, "orient": "bottom", "direction": "horizontal", "columns": 3, "columnPadding": 30, "rowPadding": 5, "offset": 17, "clipHeight": 20,
                  "symbolSize": 400, "symbolStrokeWidth": 3, "labelOffset": 8,
                  "encode": {"symbols": {"update": {
                    "shape": {"signal": "datum.value === 'AO DIA' ? 'circle' : 'stroke'"},
                    "size": {"signal": "datum.value === 'AO DIA' ? 230 : 1300"},
                    "fill": {"signal": "datum.value === 'AO DIA' ? '#5b9bd5' : 'transparent'"},
                    "stroke": {"signal": "datum.value === 'AO DIA' ? 'transparent' : ['#5b9bd5','#ed7d31','#a5a5a5','#ffc000','#203864','#4caf3f'][indexof(['AO DIA','Mean AO DIA','Z-AO 2+','Z-AO 2-','Z-AO 3+','Z-AO 3-'], datum.value)]"},
                    "strokeWidth": {"value": 3},
                    "opacity": {"value": 1}
                  }}}
                }
              }
            }
          },
          {
            "data": {"name": "ao"},
            "mark": {"type": "circle", "size": 72, "opacity": 1},
            "encoding": {"color": {"datum": "AO DIA", "type": "nominal"}}
          }
        ]
      },
      {
        "title": "Z-Aortic root diameter",
        "width": 498, "height": 321,
        "data": {"name": "zao"},
        "mark": {"type": "circle", "size": 72, "opacity": 1, "color": "#5b9bd5"},
        "encoding": {
          "x": {"field": "w", "type": "quantitative", "scale": {"domain": [2, 5], "nice": false, "zero": false}, "axis": {"title": "Weight (kg)", "values": [2, 2.5, 3, 3.5, 4, 4.5, 5], "format": ".1f", "labelFlush": false, "offset": -137.6, "labelPadding": 20, "titleY": 154, "labelFontWeight": "bold", "labelColor": "#222"}},
          "y": {"field": "v", "type": "quantitative", "scale": {"domain": [-3, 4], "nice": false, "zero": false}, "axis": {"title": "Z-score", "values": [-3, -2, -1, 0, 1, 2, 3, 4], "labelExpr": "toString(datum.value)", "labelPadding": 10, "titlePadding": 20}}
        }
      }
    ]
  }
]
}
